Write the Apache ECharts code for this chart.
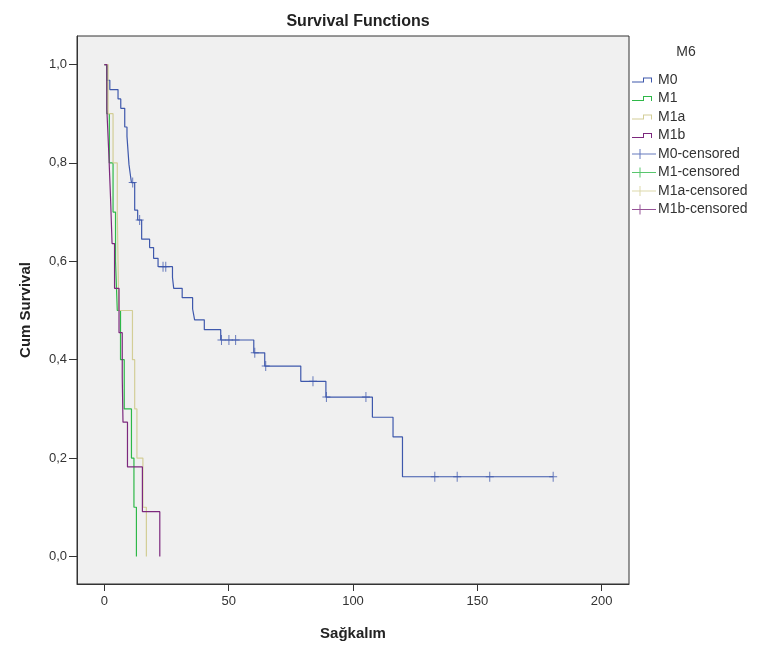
<!DOCTYPE html>
<html>
<head>
<meta charset="utf-8">
<script src="https://cdn.jsdelivr.net/npm/echarts@6/dist/echarts.min.js"></script>
<style>
  html, body { margin: 0; padding: 0; background: #fff; }
  #chart { width: 760px; height: 653px; }
</style>
</head>
<body>
<div id="chart"></div>
<script>
// Kaplan-Meier steps: time of each event and survival after it
const m0Times = [0, 1.0, 2.2, 5.5, 6.6, 8.2, 9.1, 9.9, 10.4, 10.9, 12.2, 13.4, 15.0, 18.2, 19.8, 21.6, 27.4, 27.9, 31.3, 35.5, 36.3, 40.2, 46.8, 60.1, 64.5, 79.0, 89.1, 107.8, 116.1, 119.9, 180.5]
const m0Surv = [1.0, 0.968, 0.949, 0.930, 0.911, 0.873, 0.854, 0.797, 0.778, 0.760, 0.704, 0.684, 0.645, 0.628, 0.606, 0.589, 0.567, 0.545, 0.526, 0.503, 0.481, 0.461, 0.440, 0.414, 0.387, 0.356, 0.324, 0.283, 0.243, 0.162, 0.162]
const m0Censored = [11.4, 14.2, 23.6, 24.7, 47.1, 50.1, 52.8, 60.5, 64.9, 83.9, 89.3, 105.2, 132.9, 141.9, 155.0, 180.5]

const m1Times = [0, 1.0, 2.0, 3.5, 4.5, 5.2, 6.5, 8.0, 10.9, 11.9, 12.9]
const m1Surv = [1.0, 0.9, 0.8, 0.7, 0.6, 0.5, 0.4, 0.3, 0.2, 0.1, 0.0]

const m1aTimes = [0, 1.5, 3.5, 5.2, 5.5, 5.8, 11.3, 12.2, 13.1, 15.5, 16.9]
const m1aSurv = [1.0, 0.9, 0.8, 0.7, 0.6, 0.5, 0.4, 0.3, 0.2, 0.1, 0.0]

const m1bTimes = [0, 1.0, 1.8, 2.5, 3.1, 4.1, 5.9, 7.2, 7.5, 9.3, 15.3, 22.3]
const m1bSurv = [1.0, 0.909, 0.818, 0.727, 0.636, 0.545, 0.455, 0.364, 0.273, 0.182, 0.091, 0.0]

const xTicks = [0, 50, 100, 150, 200]
const yTicks = [0, 0.2, 0.4, 0.6, 0.8, 1.0]

const colors = ['#3e58ac', '#2eb848', '#d3ce97', '#7c287d']
const groups = ['M0', 'M1', 'M1a', 'M1b']

function pairs (xs, ys) {
  return xs.map((x, i) => [x, ys[i]])
}

// survival value of the step curve at time t
function survAt (xs, ys, t) {
  let v = ys[0]
  for (let i = 0; i < xs.length; i++) {
    if (xs[i] <= t) v = ys[i]
  }
  return v
}

const stepIcon = 'path://M0 0L0.01 0L0.01 0.01Z M0 6.4L11 6.4L11 2.4L20 2.4L20 7.4L19 7.4L19 3.4L12 3.4L12 7.4L0 7.4Z M23.99 9.99L24 9.99L24 10Z'
const plusIcon = 'path://M0 4.5L24 4.5L24 5.5L0 5.5Z M7.5 0L8.5 0L8.5 10L7.5 10Z'
const plusMark = 'path://M0 4.5L10 4.5L10 5.5L0 5.5Z M4.4 0L5.6 0L5.6 10L4.4 10Z'

const chart = echarts.init(document.getElementById('chart'))

const series = []
const lineData = [pairs(m0Times, m0Surv), pairs(m1Times, m1Surv), pairs(m1aTimes, m1aSurv), pairs(m1bTimes, m1bSurv)]
groups.forEach((g, i) => {
  series.push({
    name: g,
    type: 'line',
    step: 'end',
    data: lineData[i],
    symbol: 'none',
    lineStyle: { color: colors[i], width: 1.2 },
    itemStyle: { color: colors[i] },
    animation: false
  })
})
const censored = [m0Censored.map(t => [t, survAt(m0Times, m0Surv, t)]), [], [], []]
groups.forEach((g, i) => {
  series.push({
    name: g + '-censored',
    type: 'scatter',
    data: censored[i],
    symbol: plusMark,
    symbolSize: [8, 10],
    itemStyle: { color: colors[i] },
    animation: false
  })
})

const legendData = groups.map((g, i) => ({ name: g, icon: stepIcon, itemStyle: { color: colors[i] } }))
  .concat(groups.map((g, i) => ({ name: g + '-censored', icon: plusIcon, itemStyle: { color: colors[i] } })))

chart.setOption({
  backgroundColor: '#fff',
  textStyle: { fontFamily: 'Arial, "Liberation Sans", sans-serif' },
  title: [
    {
      text: 'Survival Functions',
      left: 353,
      top: 9,
      textAlign: 'center',
      textStyle: { fontSize: 16, fontWeight: 'bold', color: '#222' }
    },
    {
      text: 'M6',
      left: 681,
      top: 40,
      textAlign: 'center',
      textStyle: { fontSize: 14, fontWeight: 'normal', color: '#333' }
    }
  ],
  legend: {
    orient: 'vertical',
    left: 632,
    top: 73,
    padding: 0,
    itemWidth: 24,
    itemHeight: 10,
    itemGap: 4.5,
    selectedMode: false,
    data: legendData,
    textStyle: { fontSize: 14, color: '#333', padding: [0, 0, 0, -3] }
  },
  grid: {
    left: 77,
    top: 36,
    right: 131,
    bottom: 69,
    show: true,
    backgroundColor: '#f0f0f0',
    borderColor: '#333',
    borderWidth: 1
  },
  xAxis: {
    type: 'value',
    min: -11,
    max: 211,
    name: 'Sağkalım',
    nameLocation: 'middle',
    nameGap: 42,
    nameTextStyle: { fontSize: 15, fontWeight: 'bold', color: '#222' },
    splitLine: { show: false },
    axisLine: { show: true, onZero: false, lineStyle: { color: '#333' } },
    axisTick: { show: true, length: 7, customValues: xTicks, lineStyle: { color: '#333' } },
    axisLabel: { customValues: xTicks, margin: 11, fontSize: 13, color: '#333' }
  },
  yAxis: {
    type: 'value',
    min: -0.056,
    max: 1.058,
    name: 'Cum Survival',
    nameLocation: 'middle',
    nameGap: 44,
    nameTextStyle: { fontSize: 15, fontWeight: 'bold', color: '#222' },
    splitLine: { show: false },
    axisLine: { show: true, onZero: false, lineStyle: { color: '#333' } },
    axisTick: { show: true, length: 8, customValues: yTicks, lineStyle: { color: '#333' } },
    axisLabel: {
      customValues: yTicks,
      margin: 10,
      fontSize: 13,
      color: '#333',
      formatter: v => v.toFixed(1).replace('.', ',')
    }
  },
  series: series
})
</script>
</body>
</html>
